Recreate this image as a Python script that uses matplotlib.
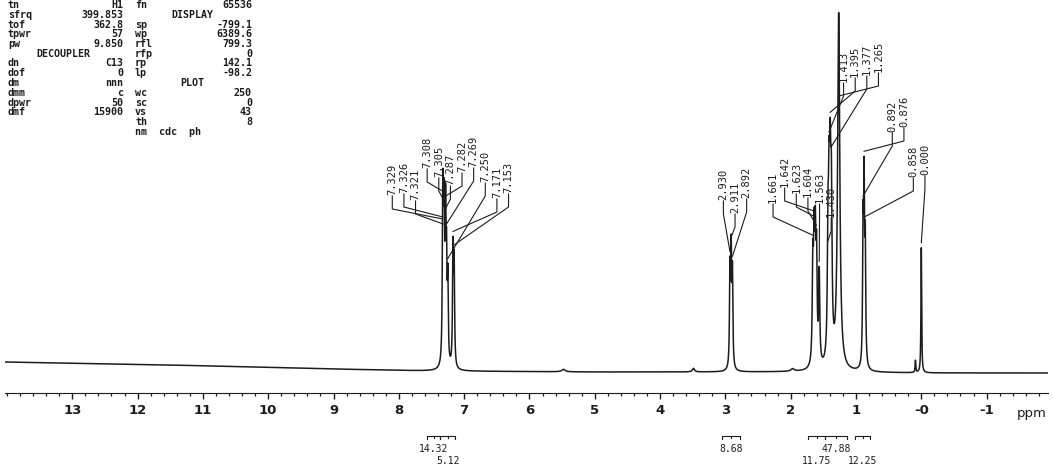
import numpy as np
import matplotlib
matplotlib.use('Agg')
import matplotlib.pyplot as plt
from matplotlib.ticker import FixedLocator, FixedFormatter, MultipleLocator

# --- peaks (ppm, height above baseline) ---
arom_ppm = [7.329, 7.326, 7.321, 7.308, 7.305, 7.287, 7.282, 7.269, 7.250, 7.171, 7.153]
arom_h = [70, 60, 70, 75, 65, 80, 75, 85, 80, 115, 100]
t29_ppm = [2.930, 2.911, 2.892]
t29_h = [95, 110, 90]
m16_ppm = [1.661, 1.642, 1.623, 1.604, 1.563, 1.430]
m16_h = [95, 110, 110, 100, 90, 105]
m14_ppm = [1.413, 1.395, 1.377, 1.265]
m14_h = [140, 150, 145, 355]
t09_ppm = [0.892, 0.876, 0.858]
t09_h = [130, 170, 115]
tms_ppm = 0.000
tms_h = 125
small_ppm = [5.48, 3.49, 1.97, 0.09]
small_h = [2.5, 3.5, 2.5, 12]

# line half widths (ppm) per group
arom_w, t29_w, m16_w, m14_w, t09_w, tms_w = 0.008, 0.008, 0.010, 0.012, 0.008, 0.006
small_w = [0.03, 0.02, 0.03, 0.006]
m14_w_last = 0.020

# baseline drift
base_ppm = [14.03, 11.5, 9.0, 7.5, 5.0, 2.0, 0.0, -1.94]
base_off = [10, 7, 3, 1, 0, 0, -1, -1]

# integrals
int_lo = [7.565, 7.366, 3.047, 1.730, 1.470, 1.011]
int_hi = [7.366, 7.136, 2.772, 1.470, 1.133, 0.781]
int_val = [14.32, 5.12, 8.68, 11.75, 47.88, 12.25]

tick_vals = list(range(13, -2, -1))
tick_text = [str(v) for v in range(13, 0, -1)] + ['-0', '-1']

left_params = [('tn', 'H1'), ('sfrq', '399.853'), ('tof', '362.8'), ('tpwr', '57'),
               ('pw', '9.850'), ('DECOUPLER', None), ('dn', 'C13'), ('dof', '0'),
               ('dm', 'nnn'), ('dmm', 'c'), ('dpwr', '50'), ('dmf', '15900')]
right_params = [('fn', '65536'), ('DISPLAY', None), ('sp', '-799.1'), ('wp', '6389.6'),
                ('rfl', '799.3'), ('rfp', '0'), ('rp', '142.1'), ('lp', '-98.2'),
                ('PLOT', None), ('wc', '250'), ('sc', '0'), ('vs', '43'), ('th', '8'),
                ('nm  cdc  ph', '')]

W, H = 1053, 470
INK = '#1c1c1c'
MONO = 'DejaVu Sans Mono'


def lorentz(x, x0, h, w):
    return h * w ** 2 / ((x - x0) ** 2 + w ** 2)


x = np.linspace(14.03, -1.94, 90000)
y = np.interp(x, base_ppm[::-1], base_off[::-1])
for p, h in zip(arom_ppm, arom_h):
    y += lorentz(x, p, h, arom_w)
for p, h in zip(t29_ppm, t29_h):
    y += lorentz(x, p, h, t29_w)
for p, h in zip(m16_ppm, m16_h):
    y += lorentz(x, p, h, m16_w)
for i, (p, h) in enumerate(zip(m14_ppm, m14_h)):
    y += lorentz(x, p, h, m14_w_last if i == len(m14_ppm) - 1 else m14_w)
for p, h in zip(t09_ppm, t09_h):
    y += lorentz(x, p, h, t09_w)
y += lorentz(x, tms_ppm, tms_h, tms_w)
for p, h, w in zip(small_ppm, small_h, small_w):
    y += lorentz(x, p, h, w)

fig = plt.figure(figsize=(W / 100, H / 100), dpi=100)
fig.patch.set_facecolor('white')
ax = fig.add_axes([5 / W, 0, 1043 / W, 1])
ax.set_xlim(14.03, -1.94)
ax.set_ylim(-98, 372)
ax.plot(x, y, color=INK, lw=1.1)

# ruler
for s in ['top', 'left', 'right']:
    ax.spines[s].set_visible(False)
ax.spines['bottom'].set_position(('data', -21))
ax.spines['bottom'].set_color(INK)
ax.yaxis.set_visible(False)
ax.xaxis.set_major_locator(FixedLocator(tick_vals))
ax.xaxis.set_major_formatter(FixedFormatter(tick_text))
ax.xaxis.set_minor_locator(MultipleLocator(0.2))
ax.tick_params(axis='x', which='major', direction='out', length=4, width=1,
               color=INK, pad=4, labelsize=9.5, labelcolor=INK)
ax.tick_params(axis='x', which='minor', direction='out', length=2.5, width=0.9, color=INK)
for t in ax.get_xticklabels():
    t.set_fontweight('bold')
fig.text(1032 / W, 1 - 414 / H, 'ppm', ha='center', va='center', fontsize=9.5, color=INK)

# peak labels with leaders
step = 0.178
lab_groups = [
    (arom_ppm, 8.10, [177, 179, 172, 204, 195, 187, 200, 205, 190, 174, 179]),
    (t29_ppm, 3.03, [172, 159, 174]),
    (m16_ppm, 2.27, [169, 185, 179, 175, 169, 155]),
    (m14_ppm, 1.19, [290, 295, 297, 300]),
    (t09_ppm[:2], 0.444, [240, 245]),
    ([t09_ppm[2], tms_ppm], 0.122, [195, 197]),
]
xr, yr = x[::-1], y[::-1]
for shifts, start, bottoms in lab_groups:
    for i, (p, b) in enumerate(zip(shifts, bottoms)):
        lx = start - i * step
        ax.text(lx, b, '%.3f' % p, rotation=90, ha='center', va='bottom',
                family=MONO, fontsize=7.5, color=INK)
        knee = b - 14
        top = np.interp(p, xr, yr)
        end = min(top + 5, knee - 10)
        ax.plot([lx, lx, p], [b - 1, knee, end], color=INK, lw=0.8)

# integrals
yb = -64
for i, (a, b, v) in enumerate(zip(int_lo, int_hi, int_val)):
    ax.plot([a, a, b, b], [yb - 3, yb, yb, yb - 3], color=INK, lw=0.8)
    m = (a + b) / 2
    ax.plot([m, m], [yb, yb - 2], color=INK, lw=0.8)
    ty = -77 if i % 2 == 0 else -89
    ax.text(m, ty, '%.2f' % v, ha='center', va='center', family=MONO,
            fontsize=7, color=INK)

# parameter block
def ftext(px, py, s, **kw):
    fig.text(px / W, 1 - py / H, s, va='center', family=MONO, fontsize=7.2,
             fontweight='bold', color=INK, **kw)

for i, (n, v) in enumerate(left_params):
    yy = 5.0 + 9.75 * i
    if v is None:
        ftext(63, yy, n, ha='center')
    else:
        ftext(8, yy, n, ha='left')
        ftext(123, yy, v, ha='right')
for i, (n, v) in enumerate(right_params):
    yy = 5.0 + 9.75 * i
    if v is None:
        ftext(192, yy, n, ha='center')
    else:
        ftext(135, yy, n, ha='left')
        ftext(252, yy, v, ha='right')

fig.savefig('out.png', dpi=100, facecolor='white')
